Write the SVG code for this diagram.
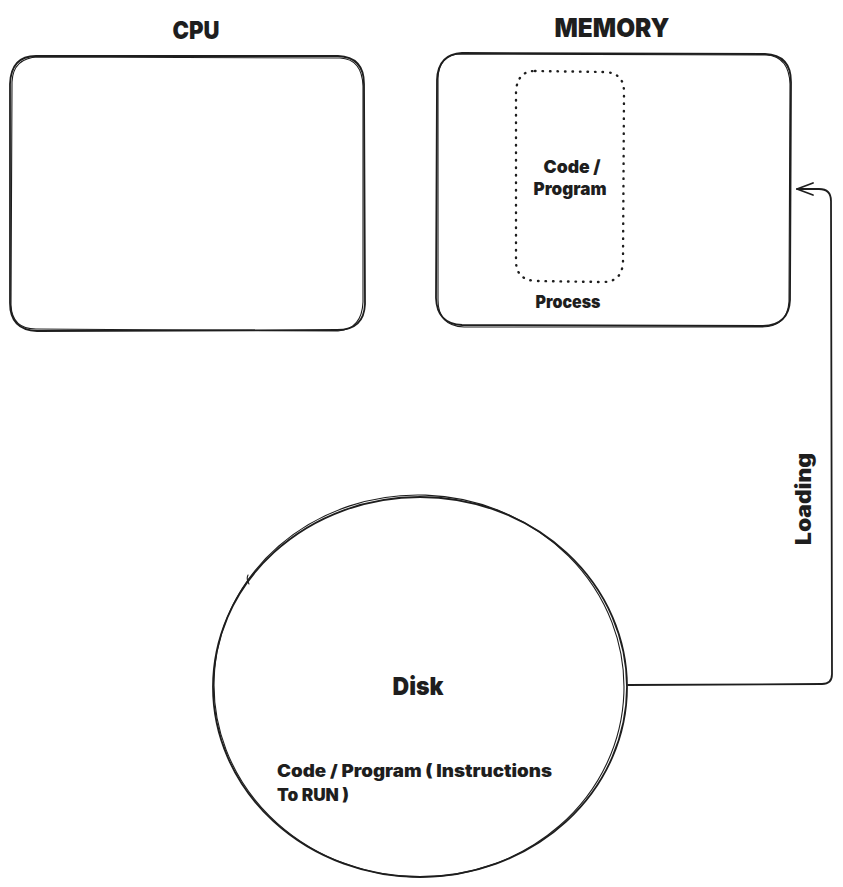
<svg xmlns="http://www.w3.org/2000/svg" width="843" height="887" viewBox="0 0 843 887">
<style>
.s{fill:none;stroke:#1e1e1e;stroke-width:1.8;stroke-linecap:round;stroke-linejoin:round}
.s2{fill:none;stroke:#1e1e1e;stroke-width:1.1;stroke-linecap:round}
.dot{fill:none;stroke:#1e1e1e;stroke-width:2.4;stroke-linecap:round;stroke-dasharray:0.5 7}
.t{font-family:Inter,"Liberation Sans",sans-serif;font-weight:900;fill:#1e1e1e}
</style>
<defs>
<marker id="ah" viewBox="0 0 20 20" refX="18" refY="10" markerWidth="20" markerHeight="20" markerUnits="userSpaceOnUse" orient="auto">
<path d="M2 4 L18 10 L2 16" class="s" stroke-width="2.2"/>
</marker>
</defs>
<rect width="843" height="887" fill="#fff"/>
<g id="cpu">
<path class="s" d="M36 56 L338 56 Q364 57 364 84 L365 304 Q364 330 337 330 L37 331 Q10 330 10 303 L10 84 Q11 56 36 56 Z"/>
<path class="s2" d="M38 57 L340 58 Q362 59 363 86 L363 302 Q362 329 338 331 L36 329 Q12 329 11 305 L12 82 Q13 58 38 57"/>
<text class="t" x="196" y="39" font-size="25" text-anchor="middle" textLength="47" lengthAdjust="spacingAndGlyphs">CPU</text>
</g>
<g id="memory">
<path class="s" d="M462 53 L765 54 Q791 55 791 82 L790 300 Q789 325 763 326 L462 325 Q437 324 436 298 L437 80 Q438 54 462 53 Z"/>
<path class="s2" d="M460 54 L767 55 Q789 57 790 84 L789 302 Q787 327 761 327 L464 327 Q438 326 438 300 L438 78 Q439 55 460 54"/>
<text class="t" x="612" y="37" font-size="26" text-anchor="middle" textLength="115" lengthAdjust="spacingAndGlyphs">MEMORY</text>
</g>
<g id="process">
<path class="dot" d="M535 71 L605 72 Q624 73 624 92 L623 262 Q622 282 603 282 L536 281 Q516 280 516 261 L516 92 Q517 71 535 71 Z"/>
<text class="t" x="572" y="173" font-size="18" text-anchor="middle" textLength="57" lengthAdjust="spacingAndGlyphs">Code /</text>
<text class="t" x="570" y="195" font-size="18" text-anchor="middle" textLength="73" lengthAdjust="spacingAndGlyphs">Program</text>
<text class="t" x="568" y="308" font-size="17" text-anchor="middle" textLength="65" lengthAdjust="spacingAndGlyphs">Process</text>
</g>
<g id="disk">
<ellipse class="s" cx="420" cy="687" rx="207" ry="190"/>
<ellipse class="s2" cx="419" cy="686" rx="205" ry="191" transform="rotate(2 419 686)"/>
<path class="s2" d="M248 575 Q246 579 249 584"/>
<text class="t" x="418" y="695" font-size="25" text-anchor="middle" textLength="51" lengthAdjust="spacingAndGlyphs">Disk</text>
<text class="t" x="277" y="777" font-size="17" textLength="275" lengthAdjust="spacingAndGlyphs">Code / Program ( Instructions</text>
<text class="t" x="277" y="801" font-size="17" textLength="72" lengthAdjust="spacingAndGlyphs">To RUN )</text>
</g>
<g id="connectors">
<path class="s" d="M628 685 L822 684 Q832 684 832 674 L831 201 Q831 189 819 189 L797 189" marker-end="url(#ah)"/>
<text class="t" x="0" y="0" font-size="21" text-anchor="middle" textLength="92" lengthAdjust="spacingAndGlyphs" transform="translate(811 499) rotate(-90)">Loading</text>
</g>
</svg>
